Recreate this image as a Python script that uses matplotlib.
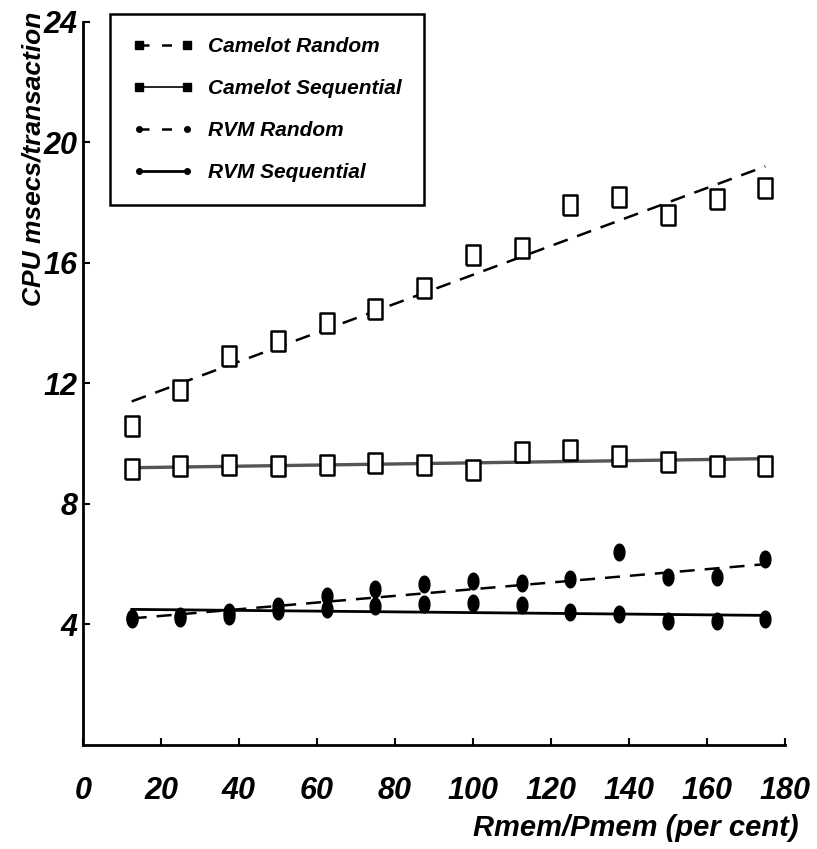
import matplotlib
matplotlib.use("Agg")
import numpy as np
import matplotlib.pyplot as plt
from matplotlib.lines import Line2D

# font: bold italic helvetica-like as in the scanned figure
plt.rcParams['font.family'] = ['Liberation Sans', 'DejaVu Sans']
plt.rcParams['font.weight'] = 'bold'
plt.rcParams['font.style'] = 'italic'

# Rmem/Pmem (per cent)
x = [12.5, 25, 37.5, 50, 62.5, 75, 87.5, 100, 112.5, 125, 137.5, 150, 162.5, 175]

camelot_random = [10.57, 11.77, 12.9, 13.4, 14.0, 14.47, 15.17, 16.27, 16.5, 17.93, 18.17, 17.57, 18.13, 18.47]
camelot_seq = [9.17, 9.27, 9.3, 9.27, 9.3, 9.37, 9.3, 9.13, 9.73, 9.8, 9.6, 9.4, 9.27, 9.27]
rvm_random = [4.23, 4.27, 4.4, 4.6, 4.93, 5.17, 5.33, 5.43, 5.37, 5.5, 6.4, 5.57, 5.57, 6.17]
rvm_seq = [4.17, 4.23, 4.27, 4.43, 4.5, 4.6, 4.67, 4.7, 4.63, 4.4, 4.33, 4.13, 4.13, 4.17]

# fitted lines (start, end)
fit_x = [12.5, 175]
camelot_random_fit = [11.4, 19.2]
camelot_seq_fit = [9.2, 9.5]
rvm_random_fit = [4.2, 6.0]
rvm_seq_fit = [4.5, 4.3]

xticks = [0, 20, 40, 60, 80, 100, 120, 140, 160, 180]
yticks = [4, 8, 12, 16, 20, 24]

# tall narrow markers like the scan
tall_square = [(-0.68, -1), (0.68, -1), (0.68, 1), (-0.68, 1), (-0.68, -1)]
t = np.linspace(0, 2 * np.pi, 30)
tall_dot = list(zip(0.65 * np.cos(t), np.sin(t)))

fig = plt.figure(figsize=(8.17, 8.49), dpi=100)
ax = fig.add_axes([0.1016, 0.1225, 0.859, 0.852])

dash = (6, 4)
ax.plot(fit_x, camelot_random_fit, color='black', lw=1.8, dashes=dash)
ax.plot(fit_x, camelot_seq_fit, color='#555555', lw=2.4)
ax.plot(fit_x, rvm_random_fit, color='black', lw=1.8, dashes=dash)
ax.plot(fit_x, rvm_seq_fit, color='black', lw=2.0)

ax.plot(x, camelot_random, ls='none', marker=tall_square, ms=14, mfc='white', mec='black', mew=1.8)
ax.plot(x, camelot_seq, ls='none', marker=tall_square, ms=14, mfc='white', mec='black', mew=1.8)
ax.plot(x, rvm_random, ls='none', marker=tall_dot, ms=12, color='black')
ax.plot(x, rvm_seq, ls='none', marker=tall_dot, ms=12, color='black')

ax.set_xlim(0, 180)
ax.set_ylim(0, 24)
ax.set_xticks(xticks)
ax.set_yticks(yticks)
ax.tick_params(axis='x', direction='in', length=5, width=1.5, pad=22, labelsize=22)
ax.tick_params(axis='y', direction='in', length=5, width=1.5, pad=4, labelsize=22)

for s in ['top', 'right']:
    ax.spines[s].set_visible(False)
for s in ['left', 'bottom']:
    ax.spines[s].set_linewidth(2)

ax.set_xlabel('Rmem/Pmem (per cent)', fontsize=21, fontweight='bold', ha='right')
ax.xaxis.set_label_coords(1.02, -0.095)
ax.set_ylabel('CPU msecs/transaction', fontsize=19, fontweight='bold')
ax.yaxis.set_label_coords(-0.054, 0.81)

handles = [
    Line2D([], [], color='black', lw=1.8, dashes=(4, 5), marker='s', ms=6, mfc='black'),
    Line2D([], [], color='black', lw=1.2, marker='s', ms=6, mfc='black'),
    Line2D([], [], color='black', lw=1.8, dashes=(4, 5), marker='o', ms=4, mfc='black'),
    Line2D([], [], color='black', lw=2.0, marker='o', ms=4, mfc='black'),
]
labels = ['Camelot Random', 'Camelot Sequential', 'RVM Random', 'RVM Sequential']
leg = ax.legend(handles, labels, loc='upper left', bbox_to_anchor=(0.038, 1.01),
                borderaxespad=0, fontsize=15, numpoints=2, handlelength=2.9,
                handletextpad=0.7, fancybox=False, edgecolor='black', framealpha=1,
                borderpad=1.1, labelspacing=1.1)
leg.get_frame().set_linewidth(1.8)

plt.savefig('out.png', dpi=100)
